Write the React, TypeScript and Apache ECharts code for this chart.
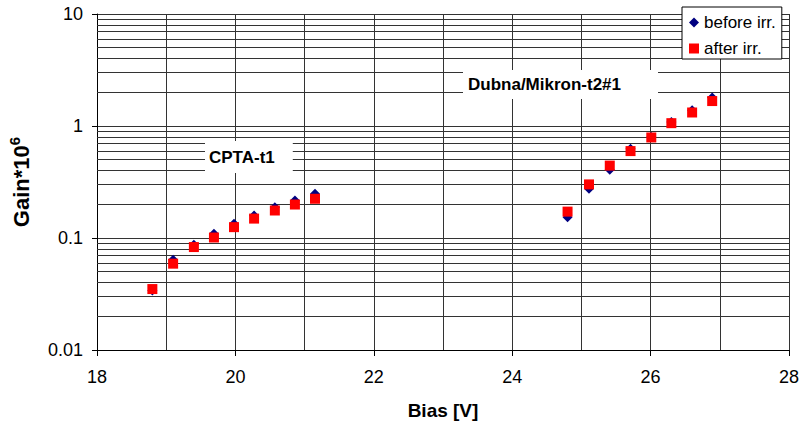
import React, { useEffect, useRef } from "react";
import * as echarts from "echarts";

const cptaBias = [18.8, 19.1, 19.4, 19.69, 19.98, 20.27, 20.57, 20.86, 21.15];
const cptaBefore = [0.034, 0.064, 0.087, 0.109, 0.134, 0.159, 0.188, 0.216, 0.248];
const cptaAfter = [0.035, 0.059, 0.083, 0.101, 0.125, 0.149, 0.176, 0.199, 0.224];

const dubnaBias = [24.8, 25.11, 25.41, 25.71, 26.01, 26.3, 26.6, 26.89];
const dubnaBefore = [0.153, 0.275, 0.407, 0.628, 0.797, 1.086, 1.38, 1.8];
const dubnaAfter = [0.172, 0.301, 0.443, 0.597, 0.79, 1.06, 1.32, 1.67];

const minorGridValues = [
  0.02, 0.03, 0.04, 0.05, 0.06, 0.07, 0.08, 0.09,
  0.2, 0.3, 0.4, 0.5, 0.6, 0.7, 0.8, 0.9,
  2, 3, 4, 5, 6, 7, 8, 9,
];

const seriesNames = ["before irr.", "after irr."];
const FONT = "'Liberation Sans', Arial, sans-serif";

function pairs(xs: number[], ys: number[]) {
  return xs.map((x, i) => [x, ys[i]]);
}

export default function App() {
  const ref = useRef<HTMLDivElement>(null);
  useEffect(() => {
    if (!ref.current) return;
    const chart = echarts.init(ref.current, undefined, { renderer: "svg" });
    const gridColor = "#333";
    chart.setOption({
      animation: false,
      backgroundColor: "#fff",
      textStyle: { fontFamily: FONT },
      grid: { left: 97, right: 11, top: 14, bottom: 78, containLabel: false, outerBoundsMode: "none" },
      legend: {
        data: [
          { name: seriesNames[0], icon: "diamond", itemStyle: { opacity: 1 } },
          { name: seriesNames[1], icon: "rect", itemStyle: { opacity: 1 } },
        ],
        orient: "vertical",
        left: 682,
        top: 7,
        padding: [7, 6, 2, 7],
        itemWidth: 10,
        itemHeight: 10,
        itemGap: 9,
        backgroundColor: "#fff",
        borderColor: "#000",
        borderWidth: 1,
        textStyle: { fontFamily: FONT, fontSize: 17, color: "#000", lineHeight: 17 },
        z: 10,
      },
      xAxis: {
        type: "value",
        min: 18,
        max: 28,
        interval: 2,
        name: "Bias [V]",
        nameLocation: "middle",
        nameGap: 51,
        nameTextStyle: { fontFamily: FONT, fontSize: 19, fontWeight: "bold", color: "#000" },
        axisLine: { show: true, onZero: false, lineStyle: { color: "#000", width: 1 } },
        axisTick: { show: true, length: 6, lineStyle: { color: "#000" } },
        axisLabel: { fontFamily: FONT, fontSize: 18, color: "#000", margin: 18 },
        splitLine: { show: true, lineStyle: { color: gridColor, width: 1 } },
        minorTick: { show: false, splitNumber: 2 },
        minorSplitLine: { show: true, lineStyle: { color: gridColor, width: 1 } },
      },
      yAxis: {
        type: "log",
        logBase: 10,
        min: 0.01,
        max: 10,
        name: "Gain*10{sup|6}",
        nameLocation: "middle",
        nameGap: 61,
        nameTextStyle: {
          fontFamily: FONT,
          fontSize: 22,
          fontWeight: "bold",
          color: "#000",
          rich: {
            sup: { fontFamily: FONT, fontSize: 15, fontWeight: "bold", color: "#000", padding: [0, 0, 14, 0] },
          },
        },
        axisLine: { show: true, lineStyle: { color: "#000", width: 1 } },
        axisTick: { show: true, length: 5, lineStyle: { color: "#000" } },
        axisLabel: { fontFamily: FONT, fontSize: 18, color: "#000", margin: 14 },
        splitLine: { show: true, lineStyle: { color: gridColor, width: 1 } },
      },
      graphic: [
        {
          type: "text",
          left: 205,
          top: 141,
          z: 20,
          style: {
            text: "CPTA-t1",
            fontFamily: FONT,
            fontSize: 17,
            fontWeight: "bold",
            fill: "#000",
            backgroundColor: "#fff",
            padding: [8, 18, 7, 4],
          },
        },
        {
          type: "text",
          left: 463,
          top: 70,
          z: 20,
          style: {
            text: "Dubna/Mikron-t2#1",
            fontFamily: FONT,
            fontSize: 17,
            fontWeight: "bold",
            fill: "#000",
            backgroundColor: "#fff",
            padding: [6, 37, 6, 5],
          },
        },
      ],
      series: [
        {
          name: "gridlines",
          type: "scatter",
          data: [],
          z: 1,
          silent: true,
          markLine: {
            silent: true,
            z: 1,
            symbol: "none",
            label: { show: false },
            lineStyle: { color: gridColor, width: 1, type: "solid" },
            data: minorGridValues.map((v) => ({ yAxis: v })),
          },
        },
        {
          name: seriesNames[0],
          type: "scatter",
          symbol: "diamond",
          symbolSize: 10,
          itemStyle: { color: "#000080", opacity: 1 },
          z: 3,
          data: [...pairs(cptaBias, cptaBefore), ...pairs(dubnaBias, dubnaBefore)],
        },
        {
          name: seriesNames[1],
          type: "scatter",
          symbol: "rect",
          symbolSize: 10,
          itemStyle: { color: "#ff0000", opacity: 1 },
          z: 4,
          data: [...pairs(cptaBias, cptaAfter), ...pairs(dubnaBias, dubnaAfter)],
        },
      ],
    });
    return () => chart.dispose();
  }, []);
  return <div ref={ref} style={{ width: 800, height: 428, position: "absolute", left: 0, top: 0 }} />;
}
